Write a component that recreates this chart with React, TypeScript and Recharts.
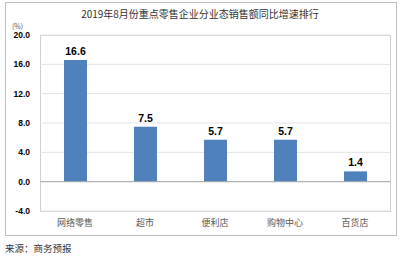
import { BarChart, Bar, XAxis, YAxis, CartesianGrid, ReferenceLine, LabelList } from "recharts";

const categories = ["网络零售", "超市", "便利店", "购物中心", "百货店"];
const growth = [16.6, 7.5, 5.7, 5.7, 1.4];
const yTicks = [-4, 0, 4, 8, 12, 16, 20];

const BAR_COLOR = "#4F81BD";
const FONT = "'Noto Sans CJK SC', 'Noto Sans', sans-serif";

const data = categories.map((name, i) => ({ name, value: growth[i] }));

export default function App() {
  return (
    <div style={{ position: "absolute", left: 0, top: 0, width: 400, height: 256, background: "#fff", fontFamily: FONT }}>
      {/* outer frame */}
      <div style={{ position: "absolute", left: 5, top: 2, width: 390, height: 232, border: "1px solid #bfbfbf" }} />
      <div style={{ position: "absolute", left: 0, top: 6, width: 400, textAlign: "center", fontSize: 10, color: "#333" }}>
        2019年8月份重点零售企业分业态销售额同比增速排行
      </div>
      <div style={{ position: "absolute", left: 12, top: 21, fontSize: 7, color: "#595959" }}>(%)</div>
      {/* plot frame */}
      <div style={{ position: "absolute", left: 40, top: 35, width: 349, height: 175, border: "1px solid #d0d0d0" }} />
      <div style={{ position: "absolute", left: 0, top: 0 }}>
        <BarChart width={400} height={256} data={data} margin={{ top: 35, right: 10, left: 0, bottom: 25 }}>
          <CartesianGrid vertical={false} stroke="#e3e3e3" />
          <XAxis
            dataKey="name"
            axisLine={false}
            tickLine={false}
            tickSize={0}
            tickMargin={9}
            height={20}
            tick={{ fill: "#595959", fontSize: 9, fontFamily: FONT }}
          />
          <YAxis
            domain={[-4, 20]}
            ticks={yTicks}
            tickFormatter={(v: number) => v.toFixed(1)}
            axisLine={false}
            tickLine={false}
            tickSize={0}
            tickMargin={10}
            width={40}
            tick={{ fill: "#000", fontSize: 8.5, fontWeight: "bold", fontFamily: "Arial, 'Liberation Sans', sans-serif" }}
          />
          <ReferenceLine y={0} stroke="#a6a6a6" />
          <Bar dataKey="value" fill={BAR_COLOR} barSize={23} isAnimationActive={false}>
            <LabelList
              dataKey="value"
              position="top"
              formatter={(v: number) => v.toFixed(1)}
              style={{ fill: "#000", fontSize: 10.5, fontWeight: "bold", fontFamily: "Arial, 'Liberation Sans', sans-serif" }}
            />
          </Bar>
        </BarChart>
      </div>
      <div style={{ position: "absolute", left: 5, top: 241, fontSize: 9.5, color: "#333" }}>来源：商务预报</div>
    </div>
  );
}
